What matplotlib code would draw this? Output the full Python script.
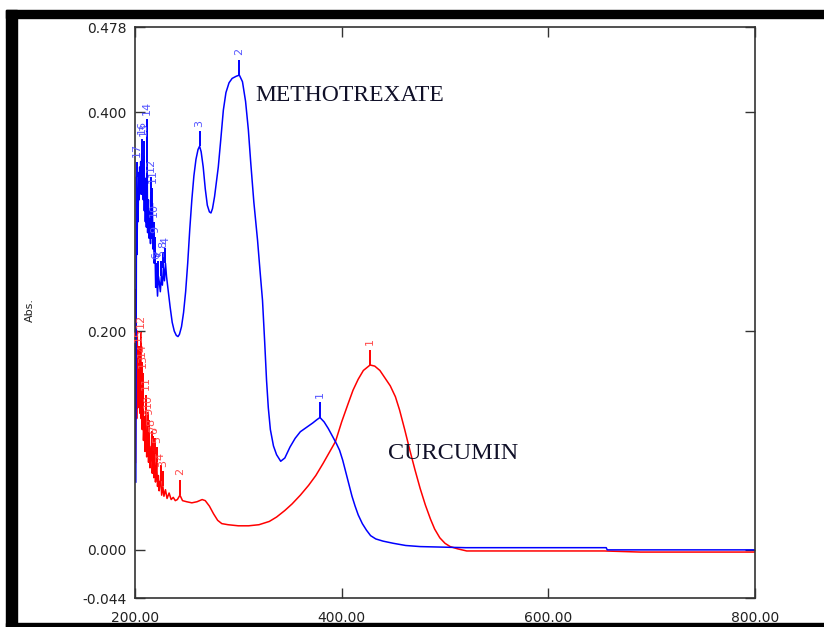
import matplotlib.pyplot as plt
from matplotlib.patches import Rectangle

# ================================================================= #
#                               Data                                #
# ================================================================= #
# Methotrexate (blue) - wavelength nm / absorbance
mtx_wl = [200.8, 201.5, 202.0, 202.5, 203.0, 203.5, 204.0, 204.5, 205.0, 205.5,
          206.0, 206.5, 207.0, 207.5, 208.0, 208.5, 209.0, 209.5, 210.0, 210.5,
          211.0, 211.6, 212.2, 213.0, 213.5, 214.2, 215.0, 215.6, 216.2, 216.8,
          217.4, 218.0, 218.6, 219.4, 220.0, 221.0, 221.8, 222.6, 223.5, 224.5,
          225.5, 226.5, 227.5, 228.5, 229.5, 230.5, 232, 234, 236, 238,
          240, 241.6, 243, 245, 247, 249, 251, 253, 255, 257,
          259, 261, 262.5, 264, 266, 268, 270, 272, 273.5, 275,
          277, 279, 280.6, 283, 285.5, 288, 291, 294, 298, 301,
          304, 307, 309.7, 312, 315, 318.6, 321, 323.4, 325.5, 327.3,
          329, 331, 334, 337, 341, 345, 350, 355, 360, 366,
          372, 376, 379, 383, 387, 391.6, 395, 398, 401, 404,
          407, 410, 413, 416, 420, 424, 428, 433, 440, 450,
          462, 476, 520, 656, 657, 800]
mtx_abs = [0.062, 0.341, 0.270, 0.330, 0.300, 0.345, 0.320, 0.350, 0.330, 0.355,
           0.325, 0.362, 0.330, 0.350, 0.320, 0.360, 0.310, 0.340, 0.300, 0.330,
           0.295, 0.380, 0.290, 0.320, 0.285, 0.310, 0.280, 0.327, 0.285, 0.317,
           0.275, 0.286, 0.262, 0.272, 0.240, 0.248, 0.232, 0.250, 0.245, 0.236,
           0.250, 0.242, 0.258, 0.246, 0.262, 0.250, 0.238, 0.222, 0.208, 0.200,
           0.196, 0.195, 0.197, 0.204, 0.217, 0.236, 0.262, 0.293, 0.320, 0.342,
           0.357, 0.366, 0.369, 0.364, 0.350, 0.330, 0.315, 0.309, 0.308, 0.312,
           0.323, 0.338, 0.350, 0.375, 0.402, 0.418, 0.427, 0.431, 0.433, 0.434,
           0.428, 0.410, 0.384, 0.354, 0.318, 0.283, 0.255, 0.228, 0.190, 0.155,
           0.130, 0.110, 0.095, 0.087, 0.081, 0.084, 0.094, 0.102, 0.108, 0.112,
           0.116, 0.119, 0.121, 0.117, 0.111, 0.103, 0.097, 0.091, 0.082, 0.071,
           0.060, 0.049, 0.040, 0.032, 0.024, 0.018, 0.013, 0.010, 0.008, 0.006,
           0.004, 0.003, 0.002, 0.002, 0.000, 0.000]

# Curcumin (red)
cur_wl = [200.5, 201.0, 201.6, 202.2, 202.8, 203.4, 204.0, 204.6, 205.5, 206.0,
          206.5, 207.0, 207.5, 208.2, 209.0, 209.7, 210.5, 211.3, 212.0, 212.5,
          213.1, 213.8, 214.5, 215.3, 216.0, 216.7, 217.5, 218.2, 219.0, 219.8,
          220.5, 221.0, 221.8, 222.6, 223.4, 224.2, 225.0, 225.8, 227.0, 228.0,
          229.5, 231, 233, 235, 237, 239, 241, 243.5, 246, 250,
          255, 260, 265, 268, 272, 276, 280, 284, 290, 300,
          310, 320, 330, 337, 345, 352, 360, 368, 375, 382,
          388, 394, 400, 406, 411, 416, 421, 427.5, 432, 437,
          442, 447, 452, 456, 461, 466, 471, 476, 481, 486,
          490, 495, 500, 505, 512, 521, 654, 689, 800]
cur_abs = [0.080, 0.238, 0.120, 0.200, 0.130, 0.165, 0.172, 0.125, 0.185, 0.120,
           0.158, 0.110, 0.148, 0.100, 0.122, 0.090, 0.128, 0.085, 0.105, 0.112,
           0.080, 0.105, 0.075, 0.090, 0.095, 0.070, 0.090, 0.066, 0.088, 0.062,
           0.072, 0.080, 0.058, 0.068, 0.054, 0.062, 0.064, 0.050, 0.058, 0.049,
           0.055, 0.047, 0.052, 0.046, 0.048, 0.045, 0.046, 0.050, 0.045, 0.044,
           0.043, 0.044, 0.046, 0.045, 0.040, 0.033, 0.027, 0.024, 0.023, 0.022,
           0.022, 0.023, 0.026, 0.030, 0.036, 0.042, 0.050, 0.059, 0.068, 0.079,
           0.089, 0.099, 0.117, 0.133, 0.146, 0.156, 0.164, 0.169, 0.168, 0.164,
           0.157, 0.150, 0.140, 0.128, 0.110, 0.091, 0.073, 0.056, 0.041, 0.028,
           0.019, 0.011, 0.006, 0.003, 0.001, -0.001, -0.001, -0.002, -0.002]

# peak picks: (number, wavelength, absorbance)
mtx_peaks = [('1', 379, 0.121), ('2', 301, 0.434), ('3', 262.5, 0.369),
             ('4', 229.5, 0.262), ('5', 225.5, 0.250), ('8', 227.5, 0.258),
             ('7', 222.6, 0.250), ('6', 221.0, 0.248), ('9', 219.4, 0.272),
             ('10', 218.0, 0.286), ('11', 216.8, 0.317), ('12', 215.6, 0.327),
             ('14', 211.6, 0.380), ('13', 208.5, 0.360), ('16', 206.5, 0.362),
             ('17', 201.5, 0.341)]
cur_peaks = [('1', 427.5, 0.169), ('2', 243.5, 0.050), ('3', 227.0, 0.058),
             ('4', 225.0, 0.064), ('5', 221.0, 0.080), ('6', 219.0, 0.088),
             ('7', 217.5, 0.090), ('8', 216.0, 0.095), ('9', 213.8, 0.105),
             ('10', 212.5, 0.112), ('11', 210.5, 0.128), ('13', 207.5, 0.148),
             ('14', 206.5, 0.158), ('12', 205.5, 0.185), ('15', 204.0, 0.172)]

xticks = [200, 400, 600, 800]
xticklabels = ['200.00', '400.00', '600.00', '800.00']
yticks = [-0.044, 0.0, 0.2, 0.4, 0.478]
yticklabels = ['-0.044', '0.000', '0.200', '0.400', '0.478']

# ================================================================= #
#                               Plot                                #
# ================================================================= #
W, H = 824, 627
fig = plt.figure(figsize=(W / 100, H / 100), dpi=100)
ax = fig.add_axes([135 / W, 29 / H, 620 / W, 571 / H])

ax.plot(cur_wl, cur_abs, color='#ff0000', lw=1.1)
ax.plot(mtx_wl, mtx_abs, color='#0000ff', lw=1.1)


def mark_peaks(peaks, line_col, txt_col):
    for lab, wl, a in peaks:
        ax.vlines(wl, a, a + 0.014, color=line_col, lw=1.4)
        ax.text(wl, a + 0.018, lab, rotation=90, ha='center', va='bottom',
                fontsize=8, color=txt_col)


mark_peaks(cur_peaks, '#ff0000', '#ff4a4a')
mark_peaks(mtx_peaks, '#0000ff', '#5555ff')

ax.text(316, 0.415, 'METHOTREXATE', family='Liberation Serif', fontsize=17,
        color='#101028', va='center', ha='left')
ax.text(444.5, 0.088, 'CURCUMIN', family='Liberation Serif', fontsize=17.5,
        color='#101028', va='center', ha='left')

ax.set_xlim(200, 800)
ax.set_ylim(-0.044, 0.478)
ax.set_xticks(xticks)
ax.set_xticklabels(xticklabels)
ax.set_yticks(yticks)
ax.set_yticklabels(yticklabels)
ax.tick_params(direction='in', length=7, width=1, top=True, right=True,
               labelsize=10, colors='#333333', labelcolor='#222222')
ax.tick_params(axis='x', pad=9)
ax.tick_params(axis='y', pad=6)
for s in ax.spines.values():
    s.set_color('#333333')
    s.set_linewidth(1.2)

fig.text(30 / W, 1 - 310 / H, 'Abs.', rotation=90, fontsize=8,
         ha='center', va='center', color='#222222')

# black frame of the screenshot
fig.add_artist(Rectangle((6 / W, 1 - 18 / H), 1, 8 / H, color='black',
                         transform=fig.transFigure))
fig.add_artist(Rectangle((6 / W, 0), 11 / W, 1 - 10 / H, color='black',
                         transform=fig.transFigure))
fig.add_artist(Rectangle((6 / W, 0), 1, 4 / H, color='black',
                         transform=fig.transFigure))

fig.savefig('out.png', dpi=100)
